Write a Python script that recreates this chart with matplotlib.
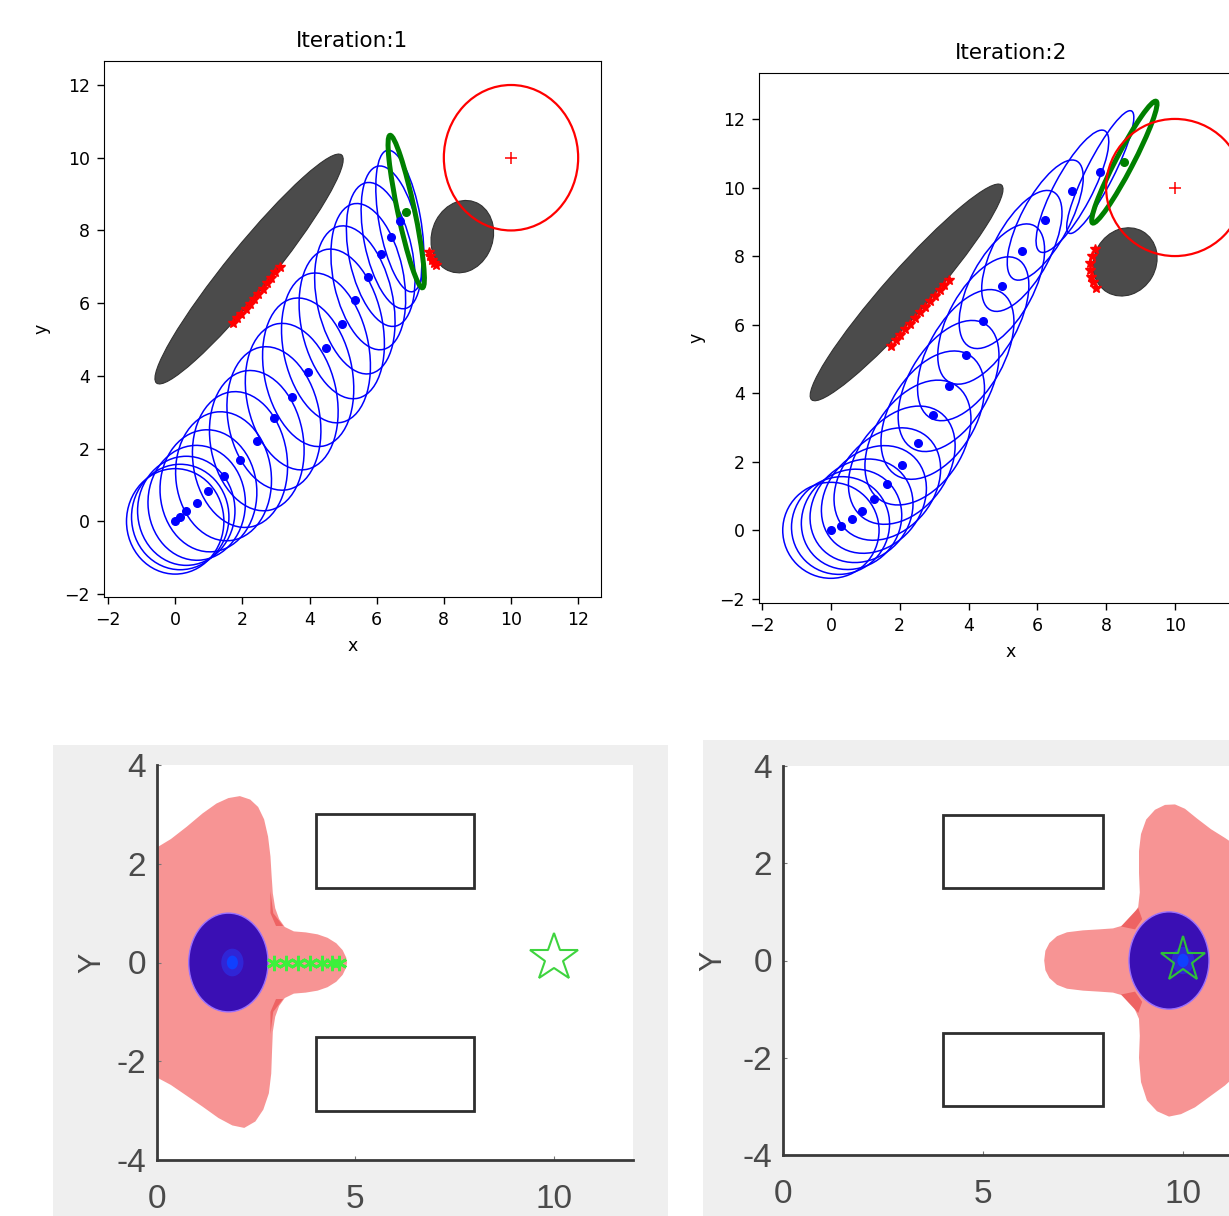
import matplotlib
matplotlib.use("Agg")
import matplotlib.pyplot as plt
from matplotlib.patches import Ellipse, Circle, Rectangle, Polygon

# ---------------- data ----------------
top_ticks = [-2, 0, 2, 4, 6, 8, 10, 12]
top2_xticks = [-2, 0, 2, 4, 6, 8, 10]

# obstacles shared by both iterations (centre, width, height, angle)
obs_big = ((2.2, 6.94), 8.35, 1.3, 48.6)
obs_small = ((8.55, 7.83), 2.05, 1.8, 60)
goal_xy = (10, 10)
goal_r = 2.0

# iteration 1: trajectory points, ellipse semi-minor / semi-major / major-axis direction
it1_x = [0.0, 0.15, 0.33, 0.64, 0.99, 1.44, 1.93, 2.43, 2.94, 3.47, 3.96, 4.49, 4.96, 5.35, 5.75, 6.12, 6.44, 6.69, 6.88]
it1_y = [0.0, 0.12, 0.29, 0.51, 0.84, 1.24, 1.70, 2.22, 2.83, 3.43, 4.10, 4.77, 5.43, 6.09, 6.73, 7.34, 7.81, 8.26, 8.52]
it1_b = [1.45, 1.45, 1.45, 1.45, 1.44, 1.42, 1.4, 1.38, 1.36, 1.33, 1.3, 1.26, 1.2, 1.12, 1.04, 0.94, 0.82, 0.62, 0.25]
it1_a = [1.45, 1.45, 1.5, 1.58, 1.68, 1.78, 1.88, 1.95, 2.0, 2.05, 2.08, 2.1, 2.1, 2.08, 2.05, 2.02, 2.0, 1.98, 2.15]
it1_th = [90, 90, 90, 92, 95, 98, 100, 102, 103, 104, 104, 104, 104, 104, 103, 103, 102, 101, 103]
it1_red_big_x = [1.73, 1.85, 1.97, 2.1, 2.22, 2.35, 2.47, 2.6, 2.72, 2.85, 2.98, 3.12]
it1_red_big_y = [5.45, 5.58, 5.71, 5.85, 5.98, 6.12, 6.26, 6.4, 6.55, 6.7, 6.85, 6.99]
it1_red_small_x = [7.56, 7.6, 7.65, 7.72, 7.78]
it1_red_small_y = [7.42, 7.3, 7.2, 7.1, 7.04]

# iteration 2
it2_x = [0.0, 0.28, 0.60, 0.89, 1.25, 1.64, 2.06, 2.53, 2.96, 3.42, 3.92, 4.43, 4.97, 5.55, 6.23, 7.02, 7.83, 8.53]
it2_y = [0.0, 0.14, 0.32, 0.57, 0.90, 1.35, 1.90, 2.56, 3.36, 4.21, 5.11, 6.12, 7.12, 8.15, 9.05, 9.89, 10.45, 10.74]
it2_b = [1.4, 1.4, 1.4, 1.4, 1.38, 1.36, 1.33, 1.3, 1.25, 1.18, 1.1, 1.0, 0.92, 0.82, 0.7, 0.55, 0.4, 0.25]
it2_a = [1.4, 1.45, 1.52, 1.6, 1.7, 1.8, 1.9, 2.0, 2.05, 2.1, 2.1, 2.05, 2.0, 1.95, 1.95, 2.0, 2.0, 2.0]
it2_th = [45, 45, 46, 47, 49, 51, 54, 57, 59, 60, 61, 61, 62, 62, 62, 62, 63, 62.5]
it2_red_big_x = [1.74, 1.88, 2.02, 2.16, 2.3, 2.45, 2.59, 2.74, 2.88, 3.02, 3.16, 3.3, 3.44]
it2_red_big_y = [5.39, 5.55, 5.71, 5.87, 6.03, 6.2, 6.36, 6.52, 6.68, 6.84, 7.0, 7.16, 7.31]
it2_red_small_x = [7.67, 7.6, 7.53, 7.52, 7.56, 7.62, 7.72]
it2_red_small_y = [8.2, 8.0, 7.8, 7.6, 7.4, 7.25, 7.08]

# bottom row (MATLAB-style screenshots)
rect_lower_left = [(4, 1.5), (4, -3)]
rect_w, rect_h = 4, 1.5
bot_xticks = [0, 5, 10]
bot_yticks = [-4, -2, 0, 2, 4]
bot_ylabels = ['-4', '-2', '0', '2', '4']

p3_blob_x = [-0.5, 0.0, 0.35, 0.75, 1.15, 1.5, 1.8, 2.09, 2.35, 2.55, 2.7, 2.8, 2.86, 2.89, 2.92, 2.98,
             3.08, 3.22, 3.45, 3.75, 4.05, 4.3, 4.52, 4.68, 4.77, 4.79, 4.77, 4.68, 4.52, 4.3, 4.05,
             3.75, 3.45, 3.22, 3.08, 2.98, 2.92, 2.9, 2.88, 2.82, 2.68, 2.48, 2.2, 1.9, 1.55, 1.15,
             0.75, 0.35, 0.0, -0.5]
p3_blob_y = [2.1, 2.33, 2.5, 2.75, 3.02, 3.22, 3.33, 3.37, 3.3, 3.15, 2.9, 2.55, 2.15, 1.75, 1.4, 1.1,
             0.88, 0.72, 0.63, 0.61, 0.57, 0.5, 0.39, 0.25, 0.1, 0.0, -0.1, -0.25, -0.39, -0.5, -0.57,
             -0.61, -0.63, -0.72, -0.88, -1.1, -1.4, -1.8, -2.25, -2.65, -2.98, -3.22, -3.35, -3.3, -3.15, -2.92,
             -2.7, -2.48, -2.33, -2.1]
p3_dark_x = [[2.86, 2.93, 3.18, 3.0, 2.86], [2.86, 2.93, 3.18, 3.0, 2.86]]
p3_dark_y = [[1.45, 1.0, 0.74, 0.74, 1.0], [-1.45, -1.0, -0.74, -0.74, -1.0]]
p3_robot = (1.8, 0.0)
p3_spot = (1.9, 0.0)
p3_trail_x = [2.95, 3.25, 3.55, 3.85, 4.15, 4.4, 4.6]
p3_trail_y = [0, 0, 0, 0, 0, 0, 0]
p3_goal = (10.0, 0.1)

p4_blob_x = [6.53, 6.56, 6.66, 6.85, 7.1, 7.5, 7.9, 8.25, 8.5, 8.72, 8.88, 8.92, 8.9, 8.9, 8.95, 9.08,
             9.3, 9.55, 9.8, 10.05, 10.35, 10.7, 11.05, 11.3, 11.7, 12.3, 12.3, 11.7, 11.3, 11.05,
             10.7, 10.3, 9.95, 9.65, 9.35, 9.1, 8.95, 8.9, 8.92, 8.9, 8.75, 8.5, 8.25, 7.9, 7.5,
             7.1, 6.85, 6.66, 6.56]
p4_blob_y = [0.0, 0.2, 0.36, 0.5, 0.58, 0.62, 0.64, 0.66, 0.72, 0.88, 1.1, 1.4, 1.8, 2.25, 2.6, 2.9,
             3.1, 3.2, 3.21, 3.12, 2.92, 2.7, 2.52, 2.38, 2.1, 1.0, -1.0, -2.1, -2.38, -2.57,
             -2.78, -3.02, -3.16, -3.21, -3.1, -2.88, -2.5, -2.0, -1.55, -1.2, -0.92, -0.72, -0.66, -0.64, -0.62,
             -0.58, -0.5, -0.36, -0.2]
p4_dark_x = [[8.45, 8.88, 8.98, 8.8], [8.45, 8.88, 8.98, 8.8]]
p4_dark_y = [[0.7, 1.08, 0.85, 0.64], [-0.7, -1.08, -0.85, -0.64]]
p4_robot = (9.65, 0.0)
p4_spot = (10.0, 0.0)
p4_goal = (10.0, 0.02)

# ---------------- figure ----------------
W, H = 1229, 1216
fig = plt.figure(figsize=(W / 100, H / 100), dpi=100)


def px_axes(left, top, right, bottom):
    return fig.add_axes([left / W, 1 - bottom / H, (right - left) / W, (bottom - top) / H])


def draw_iteration(ax, title, xs, ys, bs, as_, ths, rbx, rby, rsx, rsy, xlim, ylim, xticks):
    ax.add_patch(Ellipse(obs_big[0], obs_big[1], obs_big[2], angle=obs_big[3],
                         facecolor='#4b4b4b', edgecolor='#333333', lw=0.8, zorder=1))
    ax.add_patch(Ellipse(obs_small[0], obs_small[1], obs_small[2], angle=obs_small[3],
                         facecolor='#4b4b4b', edgecolor='#333333', lw=0.8, zorder=1))
    for i in range(len(xs) - 1):
        ax.add_patch(Ellipse((xs[i], ys[i]), 2 * bs[i], 2 * as_[i], angle=ths[i] - 90,
                             fill=False, edgecolor='blue', lw=1.1, zorder=2))
    # last step is drawn in green
    ax.add_patch(Ellipse((xs[-1], ys[-1]), 2 * bs[-1], 2 * as_[-1], angle=ths[-1] - 90,
                         fill=False, edgecolor='green', lw=3.6, zorder=3))
    ax.plot(xs[:-1], ys[:-1], 'o', color='blue', ms=5.5, zorder=4)
    ax.plot(xs[-1], ys[-1], 'o', color='green', ms=5.5, zorder=4)
    ax.add_patch(Circle(goal_xy, goal_r, fill=False, edgecolor='red', lw=1.6, zorder=5))
    ax.plot(*goal_xy, '+', color='red', ms=8, mew=1.1, zorder=5)
    ax.plot(rbx, rby, '*', color='red', ms=7, zorder=5)
    ax.plot(rsx, rsy, '*', color='red', ms=7, zorder=5)
    ax.set_xlim(*xlim)
    ax.set_ylim(*ylim)
    ax.set_xticks(xticks)
    ax.set_yticks(top_ticks)
    ax.tick_params(labelsize=12.5, length=5, width=1, pad=5)
    ax.set_xlabel('x', fontsize=12.5, labelpad=6)
    ax.set_ylabel('y', fontsize=12.5, labelpad=10)
    ax.set_title(title, fontsize=15.5, pad=10)


ax1 = px_axes(104, 61, 601, 597)
draw_iteration(ax1, 'Iteration:1', it1_x, it1_y, it1_b, it1_a, it1_th,
               it1_red_big_x, it1_red_big_y, it1_red_small_x, it1_red_small_y,
               (-2.12, 12.68), (-2.08, 12.66), top_ticks)

ax2 = px_axes(759, 73, 1263, 603)
draw_iteration(ax2, 'Iteration:2', it2_x, it2_y, it2_b, it2_a, it2_th,
               it2_red_big_x, it2_red_big_y, it2_red_small_x, it2_red_small_y,
               (-2.09, 12.56), (-2.12, 13.34), top2_xticks)

# gray MATLAB figure backgrounds
fig.add_artist(Rectangle((53 / W, 0), (668 - 53) / W, (H - 745) / H, transform=fig.transFigure,
                         facecolor='#efefef', edgecolor='none', zorder=-1))
fig.add_artist(Rectangle((703 / W, 0), (W - 703) / W, (H - 740) / H, transform=fig.transFigure,
                         facecolor='#efefef', edgecolor='none', zorder=-1))


def style_matlab(ax, label_x):
    ax.set_xlim(0, 12)
    ax.set_ylim(-4, 4)
    for s in ['top', 'right']:
        ax.spines[s].set_visible(False)
    for s in ['left', 'bottom']:
        ax.spines[s].set_color('#3a3a3a')
        ax.spines[s].set_linewidth(2)
    ax.set_xticks(bot_xticks)
    ax.set_yticks(bot_yticks)
    ax.set_yticklabels(bot_ylabels)
    ax.tick_params(axis='x', length=3, direction='in', color='#777777', pad=17)
    ax.tick_params(axis='y', length=3, direction='in', color='#777777', pad=8)
    for lab in ax.get_xticklabels() + ax.get_yticklabels():
        lab.set_fontfamily('Liberation Sans')
        lab.set_fontsize(24)
        lab.set_color('#4a4a4a')
    ax.set_ylabel('Y', fontsize=22, color='#4a4a4a', family='Liberation Sans')
    ax.yaxis.set_label_coords(label_x, 0.5)
    for (x0, y0) in rect_lower_left:
        ax.add_patch(Rectangle((x0, y0), rect_w, rect_h, fill=False, edgecolor='#2e2e2e', lw=2, zorder=6))


def draw_robot(ax, robot, spot):
    ax.add_patch(Circle(robot, 1.0, facecolor='#3a0fb4', edgecolor='#9a70ff', lw=1, zorder=3))
    ax.add_patch(Circle(spot, 0.28, facecolor='#2a35ee', edgecolor='none', alpha=0.6, zorder=3))
    ax.add_patch(Circle(spot, 0.14, facecolor='#1040ff', edgecolor='none', zorder=3))


ax3 = px_axes(157, 765, 633, 1160)
style_matlab(ax3, -0.105)
ax3.add_patch(Polygon(list(zip(p3_blob_x, p3_blob_y)), closed=True, facecolor='#f79494',
                      edgecolor='none', zorder=1))
for dx, dy in zip(p3_dark_x, p3_dark_y):
    ax3.add_patch(Polygon(list(zip(dx, dy)), closed=True, facecolor='#ee6363', edgecolor='none', zorder=2))
draw_robot(ax3, p3_robot, p3_spot)
ax3.plot(p3_trail_x, p3_trail_y, linestyle='none', marker=(6, 2, 0), color='#3cf03c', ms=11, mew=2, zorder=4)
ax3.plot(*p3_goal, '*', mfc='none', mec='#3fd43f', ms=36, mew=1.5, zorder=5)

ax4 = px_axes(783, 766, 1263, 1155)
style_matlab(ax4, -0.113)
ax4.add_patch(Polygon(list(zip(p4_blob_x, p4_blob_y)), closed=True, facecolor='#f79494',
                      edgecolor='none', zorder=1))
for dx, dy in zip(p4_dark_x, p4_dark_y):
    ax4.add_patch(Polygon(list(zip(dx, dy)), closed=True, facecolor='#ee6363', edgecolor='none', zorder=2))
draw_robot(ax4, p4_robot, p4_spot)
ax4.plot(*p4_goal, '*', mfc='none', mec='#2fbf3a', ms=34, mew=1.5, zorder=5)

fig.savefig('out.png', dpi=100)
